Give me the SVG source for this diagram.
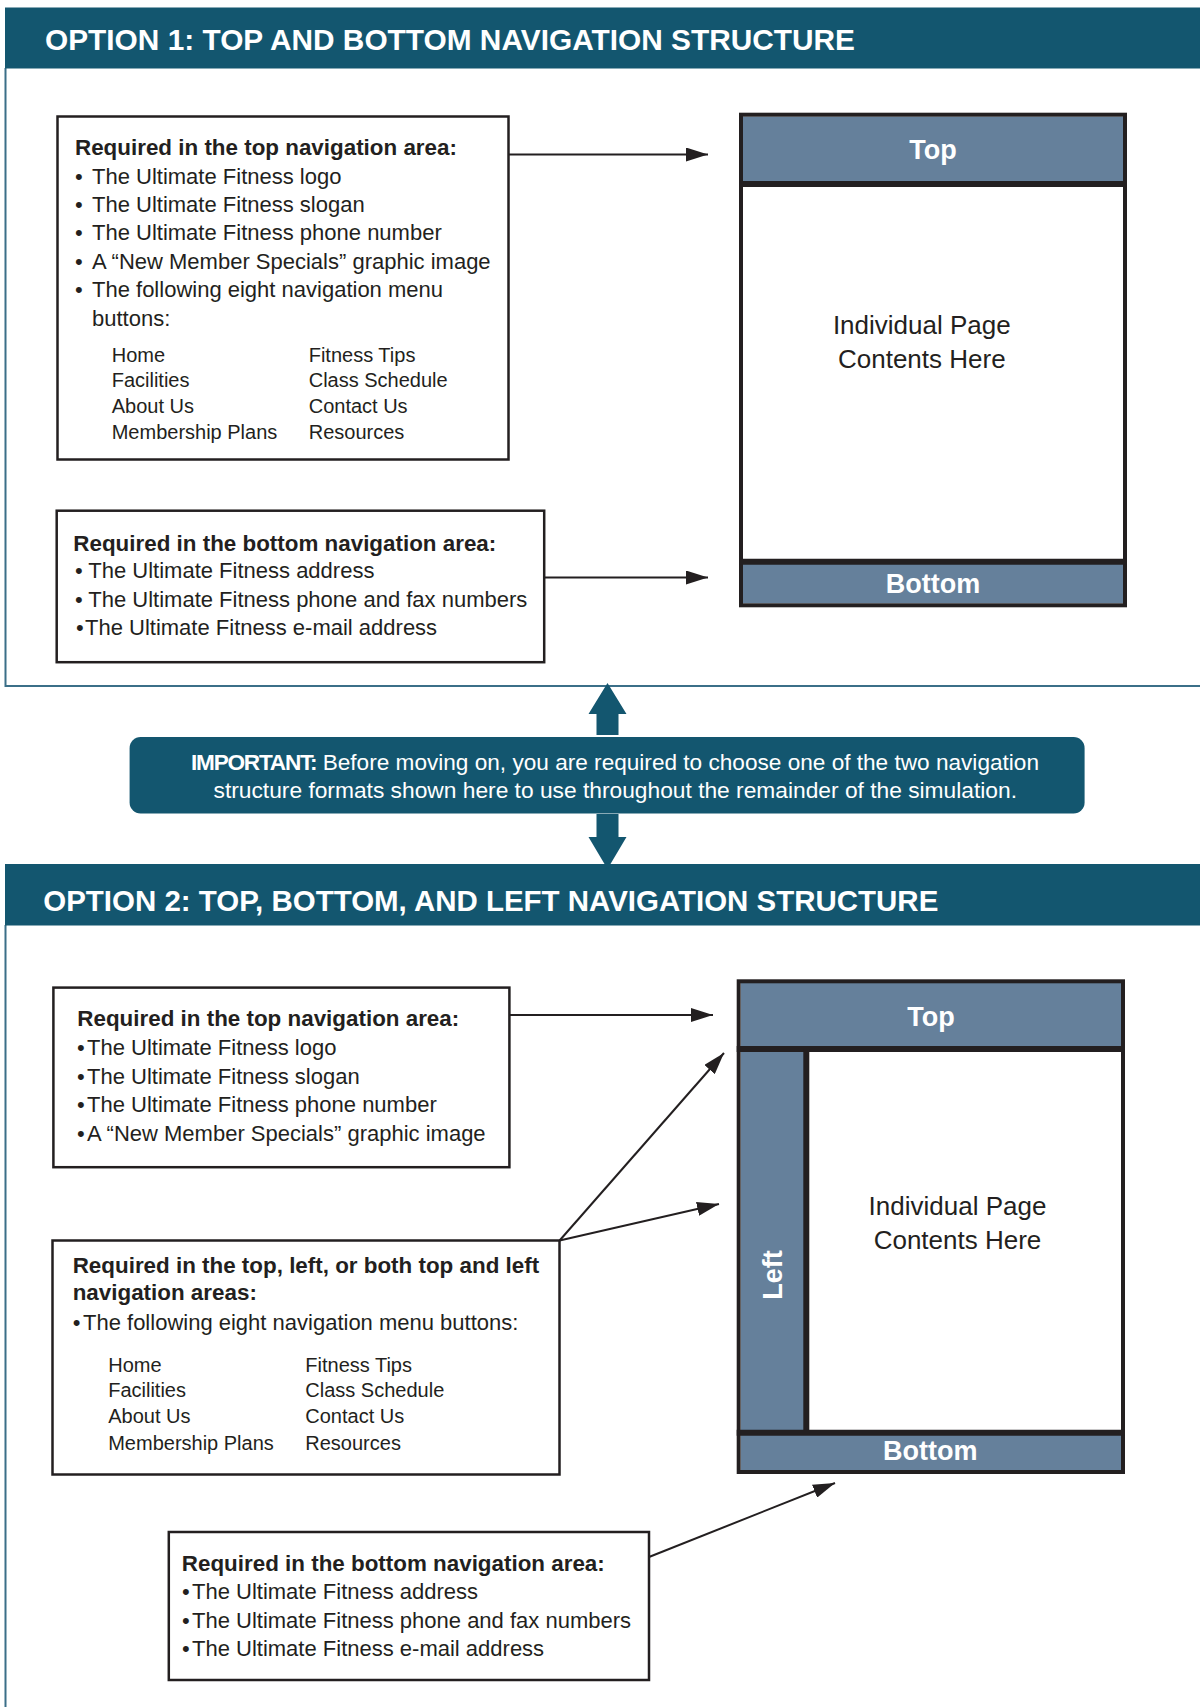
<svg xmlns="http://www.w3.org/2000/svg" width="1200" height="1707" viewBox="0 0 1200 1707">
<defs>
<marker id="ah" markerUnits="userSpaceOnUse" markerWidth="22" markerHeight="14" refX="22" refY="7" orient="auto"><path d="M0,0 L22,7 L0,14 z" fill="#231f20"/></marker>
<style>
.hdr{fill:#13566f}
.htxt{font-family:"Liberation Sans",Arial,sans-serif;font-weight:bold;font-size:30px;fill:#fff}
.frame{fill:none;stroke:#3b6f88;stroke-width:2}
.box{fill:#fff;stroke:#231f20;stroke-width:2.5}
.t{font-family:"Liberation Sans",Arial,sans-serif;font-size:22px;fill:#231f20}
.b{font-weight:bold;font-size:22.4px}
.s{font-size:20px}
.band{fill:#65809b}
.out{fill:none;stroke:#231f20;stroke-width:4}
.div{stroke:#231f20;stroke-width:6}
.lbl{font-family:"Liberation Sans",Arial,sans-serif;font-weight:bold;font-size:27px;fill:#fff;text-anchor:middle}
.pc{font-family:"Liberation Sans",Arial,sans-serif;font-size:26px;fill:#231f20;text-anchor:middle}
.con{stroke:#231f20;stroke-width:2;fill:none;marker-end:url(#ah)}
.blk{fill:#13566f}
.imp{font-family:"Liberation Sans",Arial,sans-serif;font-size:22px;fill:#fff}
</style>
</defs>
<rect x="0" y="0" width="1200" height="1707" fill="#fff"/>

<g id="section1">
<path class="frame" d="M5.5,68 V686 H1200"/>
<rect class="hdr" x="5" y="7.5" width="1195" height="61"/>
<text class="htxt" x="45" y="50" textLength="810" lengthAdjust="spacingAndGlyphs">OPTION 1: TOP AND BOTTOM NAVIGATION STRUCTURE</text>
</g>

<g id="opt1-top-box">
<rect class="box" x="57.5" y="116.5" width="451" height="343"/>
<text class="t b" x="75" y="155">Required in the top navigation area:</text>
<text class="t" y="183.5"><tspan x="75">• </tspan><tspan x="92">The Ultimate Fitness logo</tspan></text>
<text class="t" y="212"><tspan x="75">• </tspan><tspan x="92">The Ultimate Fitness slogan</tspan></text>
<text class="t" y="240"><tspan x="75">• </tspan><tspan x="92">The Ultimate Fitness phone number</tspan></text>
<text class="t" y="268.5"><tspan x="75">• </tspan><tspan x="92">A “New Member Specials” graphic image</tspan></text>
<text class="t" y="297"><tspan x="75">• </tspan><tspan x="92">The following eight navigation menu</tspan></text>
<text class="t" x="92" y="326">buttons:</text>
<text class="t s" x="111.7" y="361.7">Home</text>
<text class="t s" x="111.7" y="387.3">Facilities</text>
<text class="t s" x="111.7" y="413.3">About Us</text>
<text class="t s" x="111.7" y="439.3">Membership Plans</text>
<text class="t s" x="308.7" y="361.7">Fitness Tips</text>
<text class="t s" x="308.7" y="387.3">Class Schedule</text>
<text class="t s" x="308.7" y="413.3">Contact Us</text>
<text class="t s" x="308.7" y="439.3">Resources</text>
</g>

<g id="opt1-bottom-box">
<rect class="box" x="56.7" y="510.7" width="487.5" height="151.5"/>
<text class="t b" x="73.3" y="550.7">Required in the bottom navigation area:</text>
<text class="t" y="578.3"><tspan x="75">• </tspan><tspan x="88.3">The Ultimate Fitness address</tspan></text>
<text class="t" y="606.7"><tspan x="75">• </tspan><tspan x="88.3">The Ultimate Fitness phone and fax numbers</tspan></text>
<text class="t" y="635"><tspan x="76">•</tspan><tspan x="85">The Ultimate Fitness e-mail address</tspan></text>
</g>

<g id="opt1-layout">
<rect class="band" x="743" y="116.7" width="380" height="67"/>
<rect class="band" x="743" y="561" width="380" height="42.3"/>
<rect fill="#fff" x="743" y="187" width="380" height="372"/>
<rect class="out" x="741" y="114.7" width="384" height="490.6"/>
<line class="div" x1="739" y1="184" x2="1127" y2="184"/>
<line class="div" x1="739" y1="561.7" x2="1127" y2="561.7"/>
<text class="lbl" x="933" y="159.3">Top</text>
<text class="lbl" x="933" y="592.7">Bottom</text>
<text class="pc" x="921.8" y="334.3">Individual Page</text>
<text class="pc" x="921.8" y="368.3">Contents Here</text>
</g>

<g id="important">
<rect class="blk" x="129.6" y="737" width="955" height="76.4" rx="11"/>
<text class="imp" x="191" y="770" textLength="848" lengthAdjust="spacingAndGlyphs"><tspan font-weight="bold" letter-spacing="-1.2">IMPORTANT:</tspan> Before moving on, you are required to choose one of the two navigation</text>
<text class="imp" x="213.5" y="798.3" textLength="803.5" lengthAdjust="spacingAndGlyphs">structure formats shown here to use throughout the remainder of the simulation.</text>
</g>

<g id="section2">
<path class="frame" d="M5.5,925 V1707"/>
<rect class="hdr" x="5" y="864" width="1195" height="61.5"/>
<text class="htxt" x="43.3" y="910.7" textLength="895" lengthAdjust="spacingAndGlyphs">OPTION 2: TOP, BOTTOM, AND LEFT NAVIGATION STRUCTURE</text>
</g>

<g id="opt2-top-box">
<rect class="box" x="53.4" y="987.6" width="456" height="179.6"/>
<text class="t b" x="77.3" y="1026">Required in the top navigation area:</text>
<text class="t" y="1055"><tspan x="77">•</tspan><tspan x="87">The Ultimate Fitness logo</tspan></text>
<text class="t" y="1083.5"><tspan x="77">•</tspan><tspan x="87">The Ultimate Fitness slogan</tspan></text>
<text class="t" y="1112"><tspan x="77">•</tspan><tspan x="87">The Ultimate Fitness phone number</tspan></text>
<text class="t" y="1141"><tspan x="77">•</tspan><tspan x="87">A “New Member Specials” graphic image</tspan></text>
</g>

<g id="opt2-menu-box">
<rect class="box" x="52.5" y="1240.5" width="507" height="234"/>
<text class="t b" x="72.7" y="1273.3">Required in the top, left, or both top and left</text>
<text class="t b" x="72.7" y="1300">navigation areas:</text>
<text class="t" y="1330"><tspan x="72.7">•</tspan><tspan x="83">The following eight navigation menu buttons:</tspan></text>
<text class="t s" x="108.2" y="1371.7">Home</text>
<text class="t s" x="108.2" y="1397">Facilities</text>
<text class="t s" x="108.2" y="1423.3">About Us</text>
<text class="t s" x="108.2" y="1450">Membership Plans</text>
<text class="t s" x="305.3" y="1371.7">Fitness Tips</text>
<text class="t s" x="305.3" y="1397">Class Schedule</text>
<text class="t s" x="305.3" y="1423.3">Contact Us</text>
<text class="t s" x="305.3" y="1450">Resources</text>
</g>

<g id="opt2-bottom-box">
<rect class="box" x="168.8" y="1532" width="480.2" height="148"/>
<text class="t b" x="181.8" y="1570.5">Required in the bottom navigation area:</text>
<text class="t" y="1599"><tspan x="182">•</tspan><tspan x="192">The Ultimate Fitness address</tspan></text>
<text class="t" y="1627.5"><tspan x="182">•</tspan><tspan x="192">The Ultimate Fitness phone and fax numbers</tspan></text>
<text class="t" y="1656"><tspan x="182">•</tspan><tspan x="192">The Ultimate Fitness e-mail address</tspan></text>
</g>

<g id="opt2-layout">
<rect class="band" x="741" y="983" width="380" height="66"/>
<rect class="band" x="741" y="1049" width="65.3" height="383.7"/>
<rect class="band" x="741" y="1432.7" width="380" height="37.3"/>
<rect class="out" x="738.7" y="981.3" width="384.3" height="490.7"/>
<line class="div" x1="736.7" y1="1049" x2="1125" y2="1049"/>
<line class="div" x1="806.3" y1="1049" x2="806.3" y2="1432.7"/>
<line class="div" x1="736.7" y1="1432.7" x2="1125" y2="1432.7"/>
<text class="lbl" x="931" y="1026">Top</text>
<text class="lbl" x="930.3" y="1460">Bottom</text>
<text class="lbl" transform="translate(781.5,1275) rotate(-90)" x="0" y="0">Left</text>
<text class="pc" x="957.5" y="1215">Individual Page</text>
<text class="pc" x="957.5" y="1249.3">Contents Here</text>
</g>

<g id="connectors">
<path class="con" d="M509,154.5 H708"/>
<path class="con" d="M544,577.5 H708"/>
<path class="con" d="M509.5,1015 H713"/>
<path class="con" d="M559.6,1240.5 L724,1053"/>
<path class="con" d="M559.6,1240.5 L719,1204"/>
<path class="con" d="M649,1557 L835,1483"/>
<polygon class="blk" points="596.5,735 596.5,714 588.5,714 607.5,683 626.5,714 618.5,714 618.5,735"/>
<polygon class="blk" points="596.5,814 618.5,814 618.5,837 626.5,837 607.5,869 588.5,837 596.5,837"/>
</g>
</svg>
